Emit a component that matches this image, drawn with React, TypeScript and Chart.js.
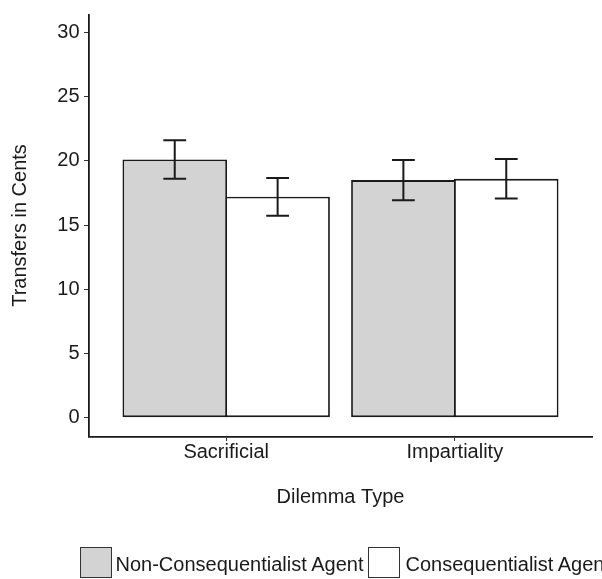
import React, { useEffect, useRef } from "react";
import { Chart, registerables } from "chart.js";

Chart.register(...registerables);

const categories = ["Sacrificial", "Impartiality"];
const seriesNames = ["Non-Consequentialist Agent", "Consequentialist Agent"];
const nonConsequentialist = [20.1, 18.5];
const consequentialist = [17.2, 18.6];
const nonConsequentialistErr = [1.5, 1.56];
const consequentialistErr = [1.47, 1.54];
const yTicks = [0, 5, 10, 15, 20, 25, 30];

const FONT = "'Liberation Sans', Arial, sans-serif";
const INK = "#1a1a1a";
const fills = ["#d3d3d3", "#ffffff"];

const errorBarPlugin = {
  id: "errorBars",
  afterDatasetsDraw(chart: any) {
    const ctx = chart.ctx;
    const yScale = chart.scales.y;
    chart.data.datasets.forEach((ds: any, di: number) => {
      const meta = chart.getDatasetMeta(di);
      meta.data.forEach((bar: any, i: number) => {
        const v = ds.data[i].y;
        const e = ds.errors[i];
        const yt = yScale.getPixelForValue(v + e);
        const yb = yScale.getPixelForValue(v - e);
        const hw = 11.4;
        ctx.save();
        ctx.strokeStyle = INK;
        ctx.lineWidth = 2;
        ctx.beginPath();
        ctx.moveTo(bar.x, yt);
        ctx.lineTo(bar.x, yb);
        ctx.moveTo(bar.x - hw, yt);
        ctx.lineTo(bar.x + hw, yt);
        ctx.moveTo(bar.x - hw, yb);
        ctx.lineTo(bar.x + hw, yb);
        ctx.stroke();
        ctx.restore();
      });
    });
  },
};

export default function App() {
  const canvasRef = useRef<HTMLCanvasElement | null>(null);

  useEffect(() => {
    if (!canvasRef.current) return;
    const seriesValues = [nonConsequentialist, consequentialist];
    const seriesErrs = [nonConsequentialistErr, consequentialistErr];
    const chart = new Chart(canvasRef.current, {
      type: "bar",
      data: {
        datasets: seriesNames.map((name, si) => ({
          label: name,
          data: categories.map((_, i) => ({ x: i + 1, y: seriesValues[si][i] })),
          errors: seriesErrs[si],
          backgroundColor: fills[si],
          borderColor: INK,
          borderWidth: 1.8,
          borderSkipped: false,
          barPercentage: 1.016,
          categoryPercentage: 0.9,
        })) as any,
      },
      options: {
        animation: false,
        responsive: false,
        devicePixelRatio: 1,
        layout: { padding: { top: 10, right: 10, left: 0, bottom: 70 } },
        plugins: {
          legend: { display: false },
          tooltip: { enabled: false },
        },
        scales: {
          x: {
            type: "linear",
            offset: false,
            min: 0.4,
            max: 2.6,
            afterBuildTicks: (s: any) => {
              s.ticks = categories.map((_, i) => ({ value: i + 1 }));
            },
            afterFit: (s: any) => {
              s.height = 72.5;
            },
            ticks: {
              callback: (v: any) => categories[Math.round(Number(v)) - 1] ?? "",
              color: INK,
              font: { family: FONT, size: 20, lineHeight: 1 },
              padding: 1,
              maxRotation: 0,
              autoSkip: false,
            },
            grid: {
              display: true,
              offset: false,
              drawOnChartArea: false,
              drawTicks: true,
              tickLength: 4.5,
              color: "#333333",
              lineWidth: 1,
            },
            border: { display: true, color: INK, width: 1.8 },
            title: {
              display: true,
              text: "Dilemma Type",
              color: INK,
              font: { family: FONT, size: 20 },
              padding: { top: 0, bottom: 0 },
            },
          },
          y: {
            type: "linear",
            min: -1.47,
            max: 31.4,
            afterBuildTicks: (s: any) => {
              s.ticks = yTicks.map((v) => ({ value: v }));
            },
            afterFit: (s: any) => {
              s.width = 89;
            },
            ticks: {
              color: INK,
              font: { family: FONT, size: 20, lineHeight: 1 },
              padding: 4.5,
            },
            grid: {
              display: true,
              drawOnChartArea: false,
              drawTicks: true,
              tickLength: 5,
              color: "#333333",
              lineWidth: 1,
            },
            border: { display: true, color: INK, width: 1.8 },
            title: {
              display: true,
              text: "Transfers in Cents",
              color: INK,
              font: { family: FONT, size: 20 },
              padding: { top: 8, bottom: 0 },
            },
          },
        },
      } as any,
      plugins: [errorBarPlugin],
    });
    return () => chart.destroy();
  }, []);

  return (
    <div
      style={{
        position: "fixed",
        left: 0,
        top: 0,
        width: 602,
        height: 579,
        overflow: "hidden",
        background: "#ffffff",
      }}
    >
      <canvas
        ref={canvasRef}
        width={602}
        height={579}
        style={{ position: "absolute", left: 0, top: 0, width: 602, height: 579 }}
      />
      <div
        style={{
          position: "absolute",
          left: 80,
          top: 547,
          display: "flex",
          alignItems: "center",
          whiteSpace: "nowrap",
          fontFamily: FONT,
          fontSize: 20,
          lineHeight: "20px",
          color: INK,
        }}
      >
        {seriesNames.map((name, i) => (
          <React.Fragment key={name}>
            <div
              style={{
                width: 32,
                height: 31,
                boxSizing: "border-box",
                border: "1.5px solid #333333",
                background: fills[i],
                marginLeft: i === 0 ? 0 : 5,
                marginRight: i === 0 ? 3.5 : 5,
                flex: "0 0 auto",
              }}
            />
            <span style={{ position: "relative", top: 1 }}>{name}</span>
          </React.Fragment>
        ))}
      </div>
    </div>
  );
}
